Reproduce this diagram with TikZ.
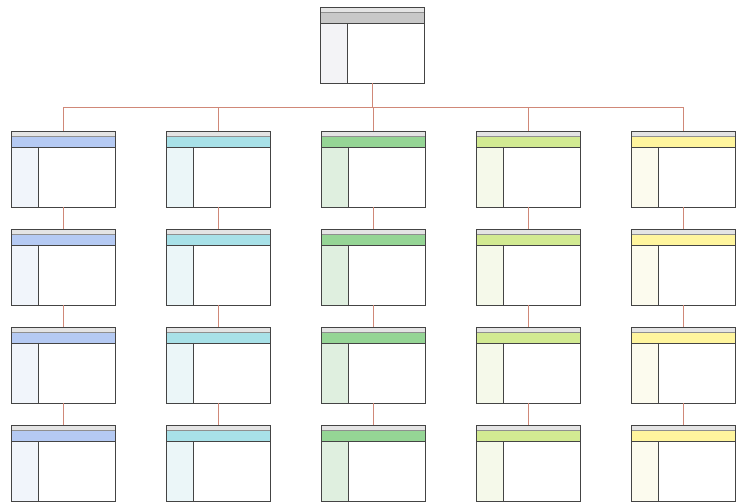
\documentclass[tikz,border=0pt]{standalone}
\usetikzlibrary{positioning}
\usepackage{xcolor}
\definecolor{frameline}{HTML}{444444}
\definecolor{linkred}{HTML}{D08878}
\definecolor{stripgray}{HTML}{E4E4E4}
\definecolor{rootbar}{HTML}{C8C8C8}
\definecolor{rootside}{HTML}{F3F3F6}
\definecolor{bluebar}{HTML}{B5CAF3}
\definecolor{blueside}{HTML}{F1F5FB}
\definecolor{cyanbar}{HTML}{A8E1E8}
\definecolor{cyanside}{HTML}{EBF6F8}
\definecolor{greenbar}{HTML}{95D595}
\definecolor{greenside}{HTML}{DFEFDF}
\definecolor{limebar}{HTML}{D2EA92}
\definecolor{limeside}{HTML}{F5F9EA}
\definecolor{yellowbar}{HTML}{FFF59E}
\definecolor{yellowside}{HTML}{FCFBEE}

\begin{document}
\begin{tikzpicture}[
  x=1pt, y=-1pt,
  node distance=22pt and 51pt,
  win/.style 2 args={draw=frameline, line width=0.9pt, fill=white,
              minimum width=104pt, minimum height=76pt,
              inner sep=0pt, outer sep=0pt,
              path picture={
                \fill[stripgray] (path picture bounding box.north west)
                  rectangle ([yshift=-5pt]path picture bounding box.north east);
                \fill[#1] ([yshift=-5pt]path picture bounding box.north west)
                  rectangle ([yshift=-16pt]path picture bounding box.north east);
                \fill[#2] ([yshift=-16pt]path picture bounding box.north west)
                  rectangle ([xshift=27pt]path picture bounding box.south west);
                \draw[frameline!60, line width=0.5pt]
                  ([yshift=-5pt]path picture bounding box.north west)
                  -- ([yshift=-5pt]path picture bounding box.north east);
                \draw[frameline, line width=0.9pt]
                  ([yshift=-16pt]path picture bounding box.north west)
                  -- ([yshift=-16pt]path picture bounding box.north east);
                \draw[frameline, line width=0.9pt]
                  ([xshift=27pt,yshift=-16pt]path picture bounding box.north west)
                  -- ([xshift=27pt]path picture bounding box.south west);
              }},
  link/.style={line width=1pt, color=linkred}
]
  \useasboundingbox (0,0) rectangle (739,502);
  \clip (0,0) rectangle (739,502);

  % top of the chart
  \node[win={rootbar}{rootside}] (root) at (372,45.5) {};
  \coordinate (bus) at (372,108);

  % first row
  \node[win={bluebar}{blueside}]     (a1) at (63,169) {};
  \node[win={cyanbar}{cyanside}]     (b1) [right=of a1] {};
  \node[win={greenbar}{greenside}]   (c1) [right=of b1] {};
  \node[win={limebar}{limeside}]     (d1) [right=of c1] {};
  \node[win={yellowbar}{yellowside}] (e1) [right=of d1] {};

  % the columns below
  \foreach \c/\hue in {a/blue, b/cyan, c/green, d/lime, e/yellow} {
    \node[win={\hue bar}{\hue side}, below=of \c1] (\c2) {};
    \node[win={\hue bar}{\hue side}, below=of \c2] (\c3) {};
    \node[win={\hue bar}{\hue side}, below=of \c3] (\c4) {};
    \draw[link] (\c1) |- (bus);
    \draw[link] (\c1) -- (\c2);
    \draw[link] (\c2) -- (\c3);
    \draw[link] (\c3) -- (\c4);
  }
  \draw[link] (root) -- (bus);
\end{tikzpicture}
\end{document}
